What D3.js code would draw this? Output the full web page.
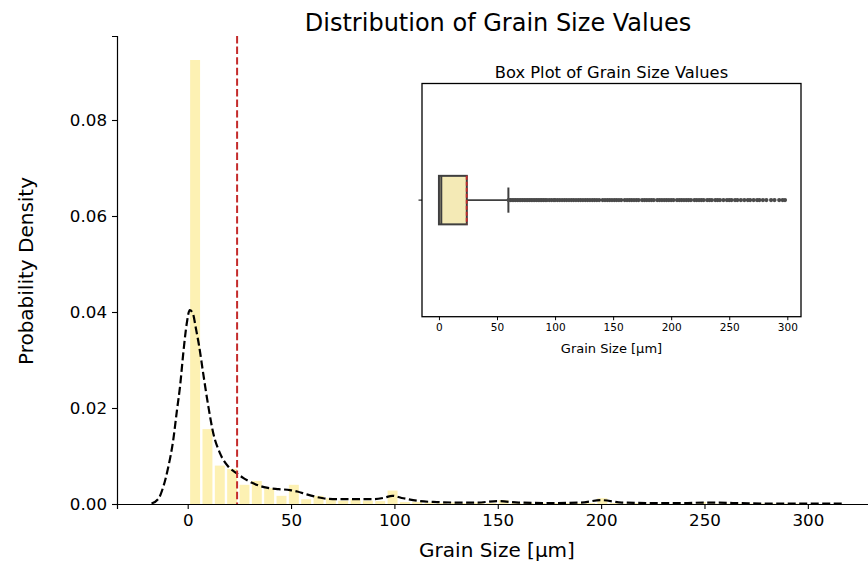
<!doctype html>
<html>
  <head>
    <script src="https://cdn.jsdelivr.net/npm/d3@7"></script>
    <style>
      body { margin: 0; background: #fff; }
      text { font-family: "DejaVu Sans", sans-serif; fill: #000; }
    </style>
  </head>
  <body>
    <script>
        // histogram: 50 bins starting at binLo, each binWidth wide (density)
        var binLo = 0.6, binWidth = 5.97;
        var density = [0.0925, 0.0156, 0.0080, 0.0073, 0.0040, 0.0048, 0.0033, 0.0017, 0.0040, 0.0010,
                       0.0017, 0.0012, 0.0007, 0.0010, 0.0007, 0.0006, 0.0028, 0.0004, 0.0004, 0.0003,
                       0.0002, 0.0003, 0.0002, 0.0003, 0.0002, 0.0008, 0.0002, 0.0002, 0.0002, 0.0002,
                       0.0002, 0.0002, 0.0002, 0.0012, 0.0002, 0.0001, 0.0002, 0.0001, 0.0001, 0.0001,
                       0.0001, 0.0004, 0.0001, 0.0001, 0.0001, 0.0001, 0.0001, 0.0001, 0.0001, 0.0001];

        // kde curve
        var kdeX = [-17.5, -14, -11.8, -9.5, -7, -5.2, -3.7, -2, -0.5, 1, 2.5, 4, 5.5, 7.5, 10, 12.4, 15.6, 19.6,
                    23.7, 27, 31.7, 38.2, 44, 49.5, 53, 57.6, 65.6, 72, 78.5, 89.8, 95, 99, 104.3, 112.4, 120.5,
                    130, 140, 150, 160, 175, 190, 200, 210, 225, 240, 250, 265, 280, 300, 317];
        var kdeY = [0.0001, 0.0012, 0.0036, 0.0075, 0.0133, 0.0195, 0.0245, 0.032, 0.0375, 0.0404, 0.0397, 0.0365,
                    0.033, 0.0272, 0.0203, 0.0147, 0.0106, 0.0078, 0.0064, 0.0054, 0.0043, 0.0034, 0.0031, 0.0029,
                    0.0026, 0.002, 0.0012, 0.001, 0.001, 0.001, 0.0013, 0.0017, 0.0012, 0.0006, 0.0004, 0.0003,
                    0.0003, 0.0006, 0.0003, 0.0002, 0.0003, 0.0008, 0.0003, 0.0002, 0.0002, 0.0003, 0.0002,
                    0.0001, 0.0001, 0.0001];

        var meanValue = 23.9;

        // box plot stats
        var q1 = 0, median = 2.0, q3 = 24, whiskerHi = 59.8;
        var fliers = [60, 61.5, 63, 64.5, 66, 67.5, 69, 70.5, 72, 73.5, 75, 76.5, 78, 79.5, 81, 82.5, 84, 85.5, 87, 88.5,
                      90, 91.5, 93, 95, 97, 99, 100, 102, 104, 106, 108, 110, 112, 114, 116, 118, 120, 122, 124, 126,
                      128, 130, 132, 134, 136, 138, 141, 143, 145, 147, 149, 151, 153, 155, 157, 160, 162, 164, 166,
                      168, 170, 172, 175, 177, 179, 181, 183, 185, 188, 190, 192, 194, 196, 198, 200, 202, 205, 207,
                      209, 211, 213, 215, 217, 220, 222, 224, 226, 228, 231, 233, 235, 238, 240, 242, 245, 248, 250,
                      252, 255, 257, 260, 263, 266, 268, 271, 274, 276, 279, 282, 286, 289, 293, 296, 298];

        var xTicks = [0, 50, 100, 150, 200, 250, 300];
        var yTicks = [0, 0.02, 0.04, 0.06, 0.08];

        var width = 868, height = 562;
        var svg = d3.select("body").append("svg")
            .attr("width", width)
            .attr("height", height);

        // main axes
        var x = d3.scaleLinear().domain([-34.2, 333.7]).range([117, 877.5]);
        var y = d3.scaleLinear().domain([0, 0.0975]).range([504, 36]);

        svg.selectAll(".bar").data(density).enter().append("rect")
            .attr("class", "bar")
            .attr("x", (d, i) => x(binLo + i * binWidth) + 1.2)
            .attr("y", d => y(d))
            .attr("width", x(binWidth) - x(0) - 2.4)
            .attr("height", d => y(0) - y(d))
            .attr("fill", "#fdf1b3");

        var line = d3.line()
            .x((d, i) => x(kdeX[i]))
            .y(d => y(d))
            .curve(d3.curveMonotoneX);

        svg.append("path")
            .datum(kdeY)
            .attr("d", line)
            .attr("fill", "none")
            .attr("stroke", "#000")
            .attr("stroke-width", 2.2)
            .attr("stroke-dasharray", "8,3.5");

        svg.append("line")
            .attr("x1", x(meanValue)).attr("x2", x(meanValue))
            .attr("y1", y(0.0975)).attr("y2", y(0))
            .attr("stroke", "#c42b2b")
            .attr("stroke-width", 2)
            .attr("stroke-dasharray", "7.4,3.2");

        var xAxis = svg.append("g")
            .attr("transform", "translate(0,504)")
            .call(d3.axisBottom(x).tickValues(xTicks).tickSize(5).tickPadding(5).tickFormat(d3.format("d")));
        var yAxis = svg.append("g")
            .attr("transform", "translate(117,0)")
            .call(d3.axisLeft(y).tickValues(yTicks).tickSize(5).tickPadding(5).tickFormat(d3.format(".2f")));

        [xAxis, yAxis].forEach(function(g) {
            g.select(".domain").attr("stroke", "#000").attr("stroke-width", 1.2);
            g.selectAll(".tick line").attr("stroke", "#000").attr("stroke-width", 1.1);
            g.selectAll(".tick text").style("font-family", "DejaVu Sans").style("font-size", "16.7px").attr("fill", "#000");
        });

        svg.append("text")
            .attr("x", 498).attr("y", 31)
            .attr("text-anchor", "middle")
            .style("font-size", "24px")
            .text("Distribution of Grain Size Values");

        svg.append("text")
            .attr("x", 497).attr("y", 557)
            .attr("text-anchor", "middle")
            .style("font-size", "20px")
            .text("Grain Size [μm]");

        svg.append("text")
            .attr("transform", "translate(33,271) rotate(-90)")
            .attr("text-anchor", "middle")
            .style("font-size", "20px")
            .text("Probability Density");

        // inset box plot
        var ix = d3.scaleLinear().domain([-14.6, 311.8]).range([422, 801]);
        var iy = d3.scaleLinear().domain([-0.5, 0.5]).range([83.5, 316.7]);
        var inset = svg.append("g");

        inset.append("rect")
            .attr("x", 422).attr("y", 83.5)
            .attr("width", 801 - 422).attr("height", 316.7 - 83.5)
            .attr("fill", "#fff");

        var boxHalf = 0.104, capHalf = 0.054;
        var edge = "#3f3f3f";

        inset.append("line")
            .attr("x1", ix(q3)).attr("x2", ix(whiskerHi))
            .attr("y1", iy(0)).attr("y2", iy(0))
            .attr("stroke", edge).attr("stroke-width", 1.8);
        inset.append("line")
            .attr("x1", ix(whiskerHi)).attr("x2", ix(whiskerHi))
            .attr("y1", iy(-capHalf)).attr("y2", iy(capHalf))
            .attr("stroke", edge).attr("stroke-width", 2);

        inset.selectAll(".flier").data(fliers).enter().append("circle")
            .attr("class", "flier")
            .attr("cx", d => ix(d))
            .attr("cy", iy(0))
            .attr("r", 2.1)
            .attr("fill", "#4a4a4a");

        inset.append("rect")
            .attr("x", ix(q1)).attr("y", iy(-boxHalf))
            .attr("width", ix(q3) - ix(q1)).attr("height", iy(boxHalf) - iy(-boxHalf))
            .attr("fill", "#f4eab6")
            .attr("stroke", edge).attr("stroke-width", 2);
        inset.append("line")
            .attr("x1", ix(median)).attr("x2", ix(median))
            .attr("y1", iy(-boxHalf)).attr("y2", iy(boxHalf))
            .attr("stroke", edge).attr("stroke-width", 2);
        inset.append("line")
            .attr("x1", ix(meanValue)).attr("x2", ix(meanValue))
            .attr("y1", iy(-boxHalf)).attr("y2", iy(boxHalf))
            .attr("stroke", "#c42b2b").attr("stroke-width", 1.8)
            .attr("stroke-dasharray", "4,2");

        inset.append("rect")
            .attr("x", 422).attr("y", 83.5)
            .attr("width", 801 - 422).attr("height", 316.7 - 83.5)
            .attr("fill", "none")
            .attr("stroke", "#000").attr("stroke-width", 1.3);

        // empty category tick on the left
        inset.append("line")
            .attr("x1", 422).attr("x2", 418.5)
            .attr("y1", iy(0)).attr("y2", iy(0))
            .attr("stroke", "#000").attr("stroke-width", 1);

        var ixAxis = inset.append("g")
            .attr("transform", "translate(0,316.7)")
            .call(d3.axisBottom(ix).tickValues(xTicks).tickSize(3.5).tickPadding(3).tickFormat(d3.format("d")));
        ixAxis.select(".domain").remove();
        ixAxis.selectAll(".tick line").attr("stroke", "#000");
        ixAxis.selectAll(".tick text").style("font-family", "DejaVu Sans").style("font-size", "10.5px").attr("fill", "#000");

        inset.append("text")
            .attr("x", 611.5).attr("y", 78)
            .attr("text-anchor", "middle")
            .style("font-size", "16.3px")
            .text("Box Plot of Grain Size Values");

        inset.append("text")
            .attr("x", 611.5).attr("y", 353)
            .attr("text-anchor", "middle")
            .style("font-size", "13px")
            .text("Grain Size [μm]");
    </script>
  </body>
</html>
